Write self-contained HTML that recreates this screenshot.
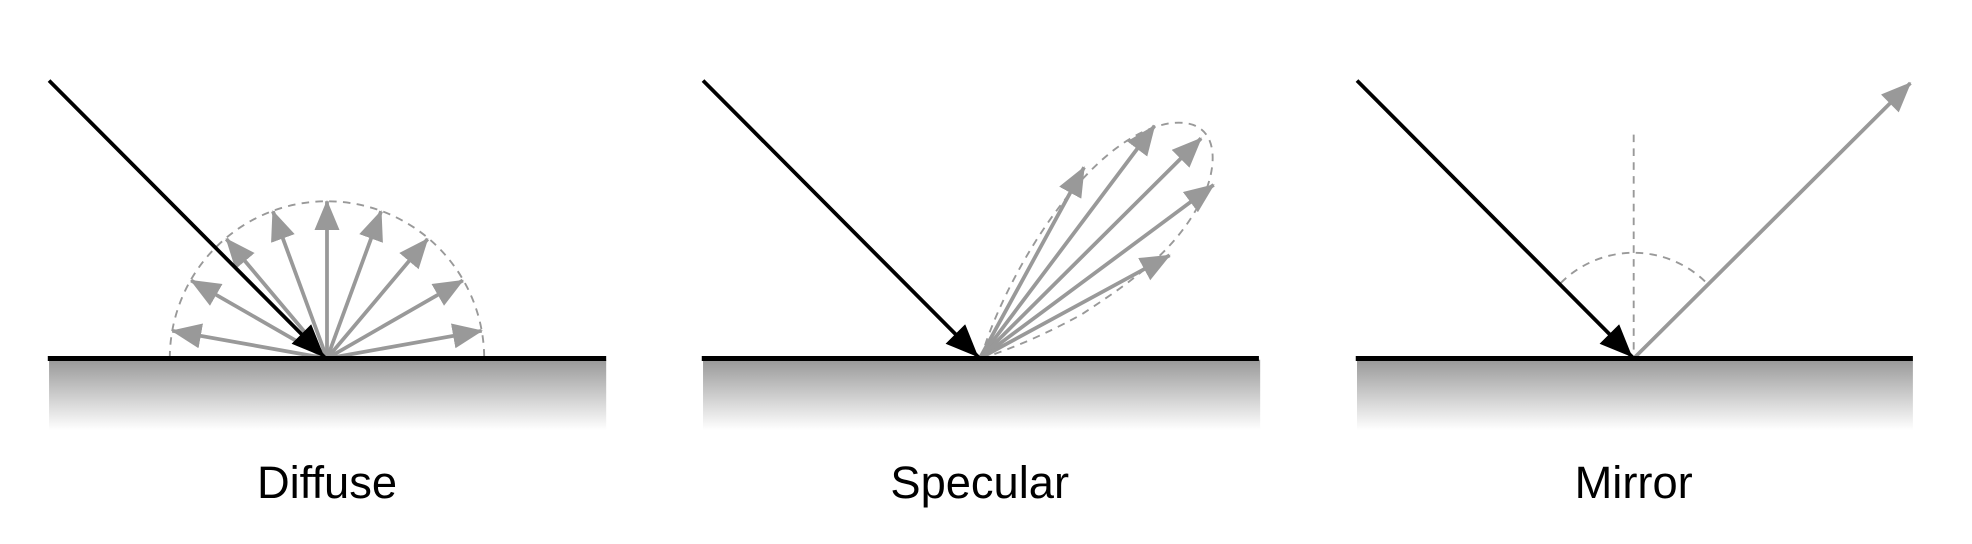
<!DOCTYPE html>
<html><head><meta charset="utf-8"><style>
html,body{margin:0;padding:0;background:#fff;}
svg{display:block;}
text{font-family:"Liberation Sans",sans-serif;}
</style></head><body>
<svg width="1972" height="544" viewBox="0 0 1568 432.5" xmlns="http://www.w3.org/2000/svg">
<defs>
<linearGradient id="g" x1="0" y1="0" x2="0" y2="1">
<stop offset="0" stop-color="#999"/><stop offset="1" stop-color="#fff"/>
</linearGradient>
<marker id="ga" markerUnits="userSpaceOnUse" markerWidth="26" markerHeight="22" refX="23" refY="10" orient="auto">
<path d="M0,0 L24,10 L0,20 Z" fill="#999"/></marker>
<marker id="ba" markerUnits="userSpaceOnUse" markerWidth="28" markerHeight="24" refX="26" refY="11" orient="auto">
<path d="M0,0 L26,11 L0,22 Z" fill="#000"/></marker>
</defs>

<!-- Diffuse -->
<rect x="39" y="286" width="443" height="56" fill="url(#g)"/>
<path d="M135,285 A125,125 0 0 1 385,285" fill="none" stroke="#999" stroke-width="1.5" stroke-dasharray="6,5"/>
<g stroke="#999" stroke-width="3" marker-end="url(#ga)">
<line x1="260" y1="285" x2="137" y2="263"/>
<line x1="260" y1="285" x2="152" y2="223"/>
<line x1="260" y1="285" x2="180" y2="190"/>
<line x1="260" y1="285" x2="217" y2="168"/>
<line x1="260" y1="285" x2="260" y2="160"/>
<line x1="260" y1="285" x2="303" y2="168"/>
<line x1="260" y1="285" x2="340" y2="190"/>
<line x1="260" y1="285" x2="368" y2="223"/>
<line x1="260" y1="285" x2="383" y2="263"/>
</g>
<line x1="39" y1="64" x2="258" y2="284" stroke="#000" stroke-width="3" marker-end="url(#ba)"/>
<line x1="38" y1="285" x2="482" y2="285" stroke="#000" stroke-width="4"/>
<text x="260" y="396" font-size="36" text-anchor="middle">Diffuse</text>

<!-- Specular -->
<rect x="559" y="286" width="443" height="56" fill="url(#g)"/>
<path d="M780,285 C795,230 860,110 930,98 C975,92 968,140 952,165 C930,205 890,230 860,250 C820,272 790,282 780,285 Z" fill="none" stroke="#999" stroke-width="1.5" stroke-dasharray="6,5"/>
<g stroke="#999" stroke-width="3" marker-end="url(#ga)">
<line x1="779" y1="285" x2="862" y2="133"/>
<line x1="779" y1="285" x2="918" y2="100"/>
<line x1="779" y1="285" x2="955" y2="110"/>
<line x1="779" y1="285" x2="965" y2="147"/>
<line x1="779" y1="285" x2="930" y2="203"/>
</g>
<line x1="559" y1="64" x2="778" y2="284" stroke="#000" stroke-width="3" marker-end="url(#ba)"/>
<line x1="558" y1="285" x2="1001" y2="285" stroke="#000" stroke-width="4"/>
<text x="779" y="396" font-size="36" text-anchor="middle">Specular</text>

<!-- Mirror -->
<rect x="1079" y="286" width="442" height="56" fill="url(#g)"/>
<line x1="1299" y1="107" x2="1299" y2="285" stroke="#999" stroke-width="1.5" stroke-dasharray="6,5"/>
<path d="M1241,225 A82,82 0 0 1 1357,225" fill="none" stroke="#999" stroke-width="1.5" stroke-dasharray="6,5"/>
<line x1="1299" y1="285" x2="1519" y2="66" stroke="#999" stroke-width="3" marker-end="url(#ga)"/>
<line x1="1079" y1="64" x2="1298" y2="284" stroke="#000" stroke-width="3" marker-end="url(#ba)"/>
<line x1="1078" y1="285" x2="1521" y2="285" stroke="#000" stroke-width="4"/>
<text x="1299" y="396" font-size="36" text-anchor="middle">Mirror</text>
</svg>
</body></html>
